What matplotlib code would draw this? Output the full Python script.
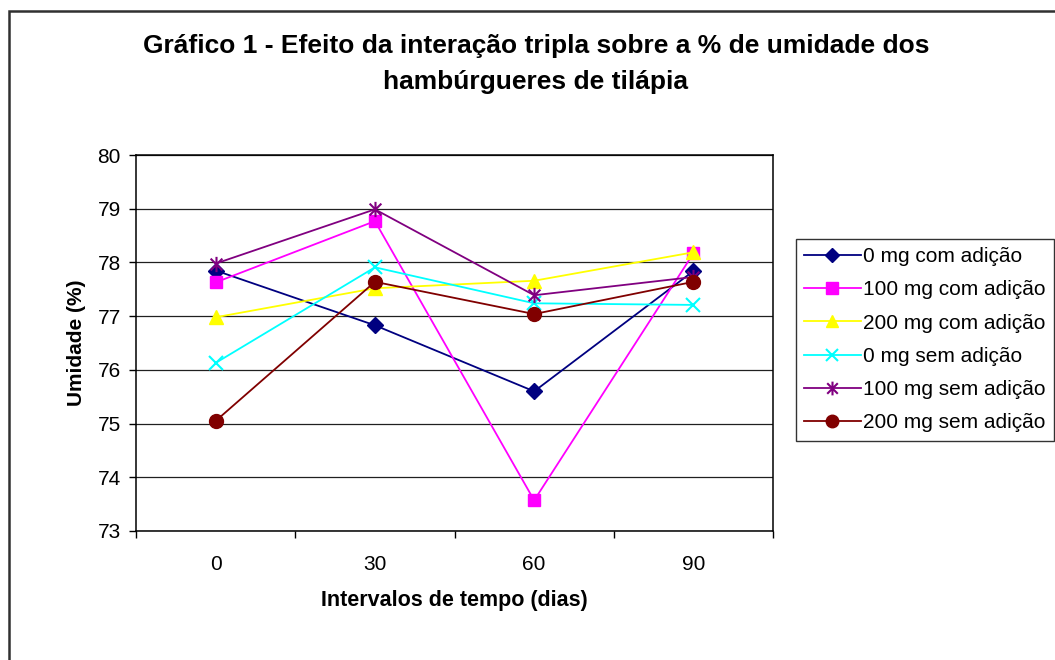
import numpy as np
import matplotlib
matplotlib.use('Agg')
import matplotlib.pyplot as plt
from matplotlib.path import Path
from matplotlib.patches import Rectangle

plt.rcParams['font.family'] = ['Liberation Sans', 'DejaVu Sans']

# intervalos de tempo (dias)
dias = ['0', '30', '60', '90']

# umidade (%) de cada tratamento
mg0_com = [77.85, 76.83, 75.60, 77.84]
mg100_com = [77.63, 78.77, 73.57, 78.17]
mg200_com = [76.98, 77.52, 77.66, 78.19]
mg0_sem = [76.13, 77.91, 77.24, 77.21]
mg100_sem = [77.98, 78.99, 77.39, 77.73]
mg200_sem = [75.05, 77.64, 77.04, 77.64]

nomes = ['0 mg com adição', '100 mg com adição', '200 mg com adição',
         '0 mg sem adição', '100 mg sem adição', '200 mg sem adição']

# estrela do Excel: um X com traço vertical
estrela = Path([(-1, -1), (1, 1), (-1, 1), (1, -1), (0, -1.3), (0, 1.3)],
               [Path.MOVETO, Path.LINETO, Path.MOVETO, Path.LINETO,
                Path.MOVETO, Path.LINETO])

estilos = [
    ('#000080', 'D', 8),
    ('#FF00FF', 's', 9),
    ('#FFFF00', '^', 10),
    ('#00FFFF', 'x', 10),
    ('#800080', estrela, 11),
    ('#800000', 'o', 10),
]

fig = plt.figure(figsize=(10.55, 6.6), dpi=100)
fig.patches.append(Rectangle((9 / 1055, -0.1), 1.2, 1 - 11 / 660 + 0.1,
                             transform=fig.transFigure, fill=False,
                             edgecolor='#303030', linewidth=1.8))

ax = fig.add_axes([0.129, 0.1955, 0.6037, 0.5695])
x = np.arange(len(dias))
series = [mg0_com, mg100_com, mg200_com, mg0_sem, mg100_sem, mg200_sem]
for vals, nome, (cor, mk, ms) in zip(series, nomes, estilos):
    ax.plot(x, vals, color=cor, marker=mk, markersize=ms, linewidth=1.3,
            markeredgewidth=1.5 if mk in ('x',) or mk is estrela else 1,
            markerfacecolor=cor, markeredgecolor=cor, label=nome)

ax.set_xlim(-0.5, 3.5)
ax.set_ylim(73, 80)
ax.set_yticks(range(73, 81))
ax.set_xticks(x)
ax.set_xticklabels(dias)
ax.set_xticks(np.arange(-0.5, 3.6, 1), minor=True)
ax.tick_params(axis='x', which='major', length=0, labelsize=15, pad=17)
ax.tick_params(axis='x', which='minor', length=5, width=1)
ax.tick_params(axis='y', length=5, width=1, labelsize=15, pad=6)
ax.grid(axis='y', color='#202020', linewidth=0.9)
ax.set_axisbelow(True)
for s in ax.spines.values():
    s.set_linewidth(1.1)

ax.set_xlabel('Intervalos de tempo (dias)', fontsize=15.5, fontweight='bold', labelpad=12)
ax.set_ylabel('Umidade (%)', fontsize=15, fontweight='bold', labelpad=8)

fig.text(0.508, 0.948, 'Gráfico 1 - Efeito da interação tripla sobre a % de umidade dos\nhambúrgueres de tilápia',
         ha='center', va='top', fontsize=19, fontweight='bold', linespacing=1.6)

leg = fig.legend(loc='upper left', bbox_to_anchor=(796 / 1055, 1 - 239 / 660),
                 fontsize=15, frameon=True, fancybox=False, borderaxespad=0,
                 handlelength=2.7, labelspacing=0.68, borderpad=0.4,
                 handletextpad=0.1, markerscale=0.9)
leg.get_frame().set_edgecolor('black')
leg.get_frame().set_linewidth(1)

fig.savefig('out.png', dpi=100)
